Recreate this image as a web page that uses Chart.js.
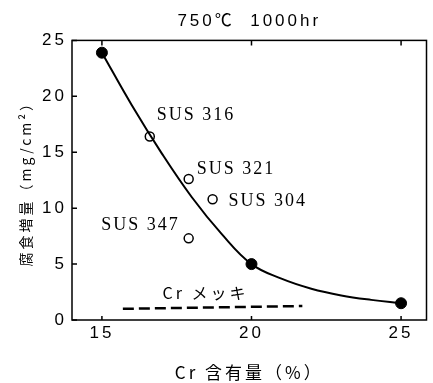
<!DOCTYPE html>
<html><head><meta charset="utf-8">
<script src="https://cdn.jsdelivr.net/npm/chart.js@4.4.0/dist/chart.umd.min.js"></script>
<style>
html, body { margin: 0; padding: 0; background: #fff; }
</style>
</head>
<body>
<canvas id="myChart" width="433" height="383"></canvas>
<script>
// Cr content (%) vs corrosion weight gain (mg/cm2), 750C 1000hr
var curveX = [15, 16, 17, 18, 19, 20, 21, 22, 23, 24, 25];
var curveY = [23.9, 19.2, 14.9, 11.0, 7.7, 5.0, 3.7, 2.8, 2.2, 1.8, 1.5];
var filledX = [15, 20, 25];
var filledY = [23.9, 5.0, 1.5];
var susNames = ['SUS 316', 'SUS 321', 'SUS 304', 'SUS 347'];
var susX = [16.6, 17.9, 18.7, 17.9];
var susY = [16.4, 12.6, 10.8, 7.3];
var platingName = 'Cr メッキ';
var platingX = [15.7, 21.7];
var platingY = [1.0, 1.25];
var xTicks = [15, 20, 25];
var yTicks = [0, 5, 10, 15, 20, 25];

function pts(xs, ys) {
  return xs.map(function (x, i) { return { x: x, y: ys[i] }; });
}

var sansFont = "'Liberation Sans', 'Noto Sans CJK JP', sans-serif";
var cjkFont = "'Noto Sans CJK JP', 'Liberation Sans', sans-serif";

// label offsets (pixels) for the point annotations
var labelPos = [
  { dx: 7, dy: -21, align: 'left' },
  { dx: 8, dy: -10, align: 'left' },
  { dx: 16, dy: 2, align: 'left' },
  { dx: -9, dy: -13, align: 'right' }
];

var spacing = {
  id: 'spacing',
  beforeDraw: function (chart) { chart.ctx.letterSpacing = '3px'; }
};

var frame = {
  id: 'frame',
  beforeDatasetsDraw: function (chart) {
    var ctx = chart.ctx, a = chart.chartArea;
    var xs = chart.scales.x, ys = chart.scales.y;
    ctx.save();
    ctx.strokeStyle = '#000';
    ctx.lineWidth = 1.5;
    ctx.strokeRect(a.left, a.top, a.right - a.left, a.bottom - a.top);
    ctx.beginPath();
    ys.ticks.forEach(function (t) {
      var y = ys.getPixelForValue(t.value);
      ctx.moveTo(a.left, y); ctx.lineTo(a.left + 5, y);
    });
    xs.ticks.forEach(function (t) {
      var x = xs.getPixelForValue(t.value);
      ctx.moveTo(x, a.top); ctx.lineTo(x, a.top + 5);
      ctx.moveTo(x, a.bottom); ctx.lineTo(x, a.bottom - 4);
    });
    ctx.stroke();
    ctx.restore();
  }
};

var labels = {
  id: 'labels',
  afterDatasetsDraw: function (chart) {
    var ctx = chart.ctx;
    ctx.save();
    ctx.fillStyle = '#000';
    ctx.textBaseline = 'middle';
    ctx.font = "18px 'Liberation Serif', serif";
    ctx.letterSpacing = '2px';
    var sus = chart.getDatasetMeta(2).data;
    susNames.forEach(function (name, i) {
      var p = labelPos[i];
      ctx.textAlign = p.align;
      ctx.fillText(name, sus[i].x + p.dx, sus[i].y + p.dy);
    });
    var pl = chart.getDatasetMeta(3).data;
    ctx.font = '16px ' + cjkFont;
    ctx.letterSpacing = '3px';
    ctx.textAlign = 'center';
    ctx.fillText(platingName, (pl[0].x + pl[1].x) / 2 - 7, (pl[0].y + pl[1].y) / 2 - 14);
    ctx.restore();
  }
};

var ctx = document.getElementById('myChart');
var myChart = new Chart(ctx, {
  type: 'scatter',
  data: {
    datasets: [{
      data: pts(curveX, curveY),
      showLine: true,
      borderColor: '#000',
      borderWidth: 2,
      pointRadius: 0,
      tension: 0.4
    }, {
      data: pts(filledX, filledY),
      pointRadius: 5.5,
      pointBackgroundColor: '#000',
      pointBorderColor: '#000',
      pointBorderWidth: 1
    }, {
      data: pts(susX, susY),
      pointRadius: 4.5,
      pointBackgroundColor: '#fff',
      pointBorderColor: '#000',
      pointBorderWidth: 1.5
    }, {
      data: pts(platingX, platingY),
      showLine: true,
      borderColor: '#000',
      borderWidth: 2.5,
      borderDash: [11, 5],
      pointRadius: 0
    }]
  },
  options: {
    responsive: false,
    animation: false,
    devicePixelRatio: 1,
    layout: { padding: { left: 0, right: 6, top: 0, bottom: 0 } },
    plugins: {
      legend: { display: false },
      tooltip: { enabled: false },
      title: {
        display: true,
        fullSize: false,
        text: '750℃  1000hr',
        color: '#000',
        font: { family: sansFont, size: 17, weight: 'normal' },
        padding: { top: 11, bottom: 9 }
      }
    },
    scales: {
      x: {
        type: 'linear',
        min: 14,
        max: 25.85,
        afterBuildTicks: function (s) { s.ticks = xTicks.map(function (v) { return { value: v }; }); },
        afterFit: function (s) { s.height = 63; },
        grid: { display: false, drawTicks: false },
        border: { display: false },
        ticks: { color: '#000', padding: 3, font: { family: sansFont, size: 17 } },
        title: {
          display: true,
          text: 'Cr 含有量（%）',
          color: '#000',
          font: { family: cjkFont, size: 17 },
          padding: { top: 0, bottom: 0 }
        }
      },
      y: {
        min: 0,
        max: 25,
        afterBuildTicks: function (s) { s.ticks = yTicks.map(function (v) { return { value: v }; }); },
        afterFit: function (s) { s.width = 72; },
        grid: { display: false, drawTicks: false },
        border: { display: false },
        ticks: { color: '#000', padding: 5, font: { family: sansFont, size: 17 } },
        title: {
          display: true,
          text: '腐食増量（mg/cm²）',
          color: '#000',
          font: { family: cjkFont, size: 14 },
          padding: { top: 17, bottom: 0 }
        }
      }
    }
  },
  plugins: [spacing, frame, labels]
});
</script>
</body></html>
